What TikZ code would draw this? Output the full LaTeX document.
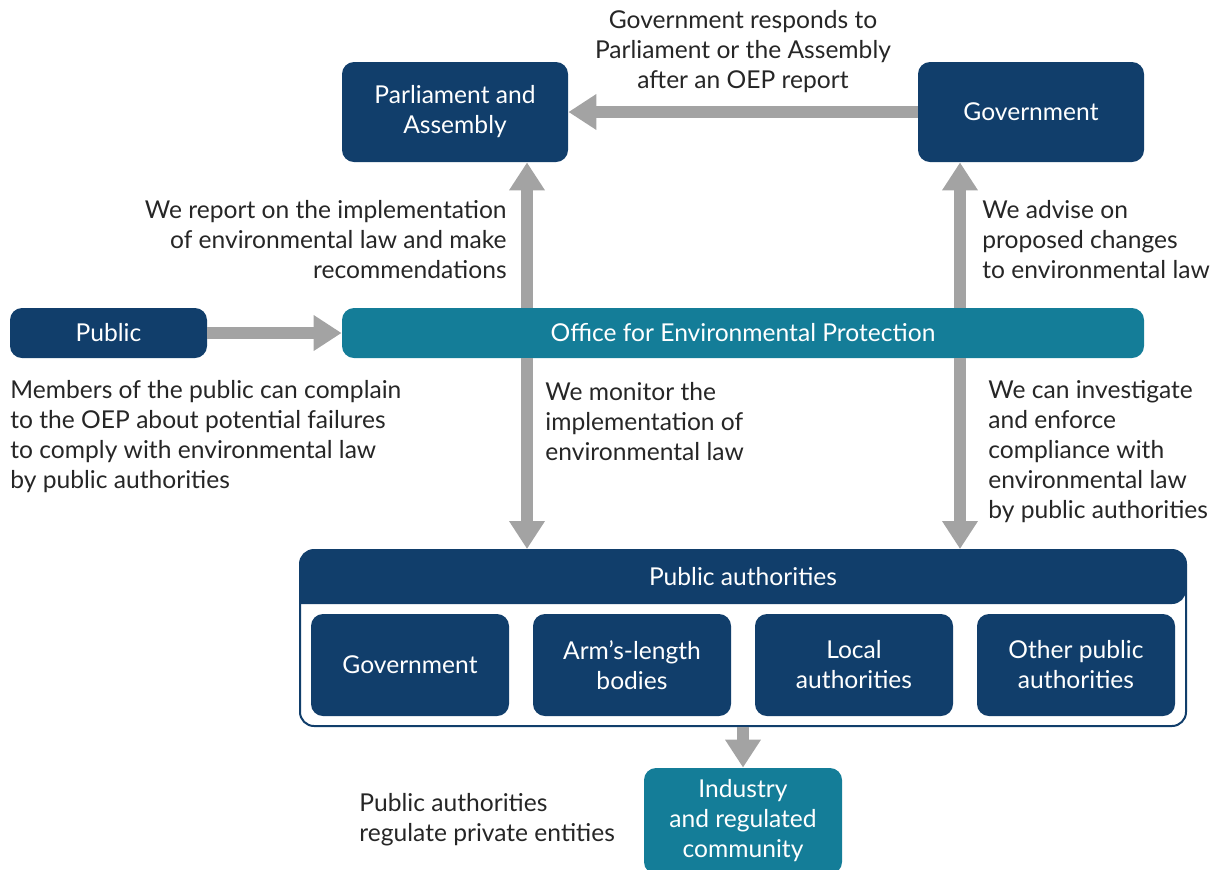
\documentclass[tikz,border=0pt]{standalone}
\usepackage{fontspec}
\setmainfont{Lato}
\usetikzlibrary{arrows.meta,calc}
\definecolor{navy}{HTML}{113E6B}
\definecolor{teal}{HTML}{147D98}
\definecolor{arrowgray}{HTML}{A3A3A3}
\tikzset{
  px/.style={x=0.5pt,y=-0.5pt},
  boxbase/.style={rounded corners=6pt, text=white, align=center, inner sep=0pt,
    font=\fontsize{12.3}{15}\selectfont},
  navybox/.style={boxbase, fill=navy},
  tealbox/.style={boxbase, fill=teal},
  lbl/.style={inner sep=0pt, text=black!85, font=\fontsize{12.3}{15}\selectfont},
  arr/.style={draw=arrowgray, line width=6pt, -{Triangle[width=17pt,length=14pt]}},
}
\begin{document}
\begin{tikzpicture}[px]
\useasboundingbox (0,0) rectangle (1220,869);
\clip (0,0) rectangle (1220,869);
% main boxes
\node[navybox, minimum width=113pt, minimum height=50pt] (parl) at (455,112) {Parliament and\\Assembly};
\node[navybox, minimum width=113pt, minimum height=50pt] (gov) at (1031,112) {Government};
\node[navybox, minimum width=98.5pt, minimum height=25pt] (pub) at (108.5,333) {Public};
\node[tealbox, minimum width=401pt, minimum height=25pt] (oep) at (743,333) {Office for Environmental Protection};
% container
\node[draw=navy, line width=1pt, fill=white, rounded corners=7pt, minimum width=443pt, minimum height=88pt, inner sep=0pt] (pa) at (743,638) {};
\fill[navy] (300,604) [rounded corners=7pt] |- (743,550) -| (1186,604) [sharp corners] -- cycle;
\node[lbl, text=white, align=center] (pahead) at (743,577) {Public authorities};
\node[navybox, minimum width=99pt, minimum height=51pt] (g2) at (410,665) {Government};
\node[navybox, minimum width=99pt, minimum height=51pt] (alb) at (632,665) {Arm’s-length\\bodies};
\node[navybox, minimum width=99pt, minimum height=51pt] (la) at (854,665) {Local\\authorities};
\node[navybox, minimum width=99pt, minimum height=51pt] (opa) at (1076,665) {Other public\\authorities};
\node[tealbox, minimum width=99pt, minimum height=53pt] (ind) at (743,821) {Industry\\and regulated\\community};
% arrow columns
\coordinate (cl) at (527,0);
\coordinate (cr) at (960,0);
\coordinate (cm) at (743,0);
% arrows
\draw[arr] (gov.west) -- (parl.east);
\draw[arr] (pub.east) -- (oep.west);
\draw[arr] (oep.north -| cl) -- (parl.south -| cl);
\draw[arr] (oep.north -| cr) -- (gov.south -| cr);
\draw[arr] (oep.south -| cl) -- (pa.north -| cl);
\draw[arr] (oep.south -| cr) -- (pa.north -| cr);
\draw[arr] (pa.south -| cm) -- (ind.north -| cm);
% labels
\node[lbl, align=center] (t1) at (743,52) {Government responds to\\Parliament or the Assembly\\after an OEP report};
\node[lbl, align=right, anchor=east] (t2) at (507,240) {We report on the implementation\\of environmental law and make\\recommendations};
\node[lbl, align=left, anchor=west] (t3) at (982,240) {We advise on\\proposed changes\\to environmental law};
\node[lbl, align=left, anchor=west] (t4) at (10,437) {Members of the public can complain\\to the OEP about potential failures\\to comply with environmental law\\by public authorities};
\node[lbl, align=left, anchor=west] (t5) at (545,422) {We monitor the\\implementation of\\environmental law};
\node[lbl, align=left, anchor=west] (t6) at (988,452) {We can investigate\\and enforce\\compliance with\\environmental law\\by public authorities};
\node[lbl, align=left, anchor=west] (t7) at (359,820) {Public authorities\\regulate private entities};
\end{tikzpicture}
\end{document}
